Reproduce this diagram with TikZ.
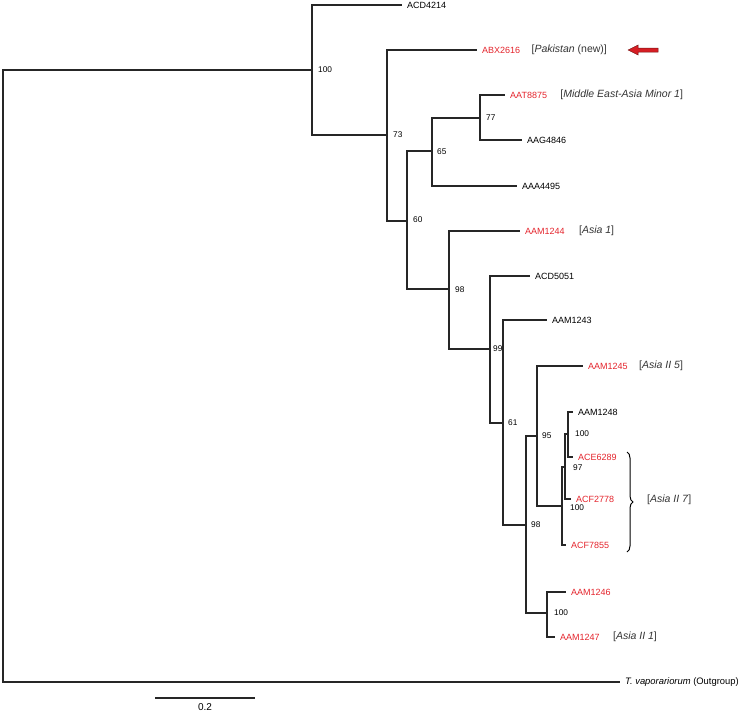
\documentclass[tikz,border=0pt]{standalone}
\usepackage{fontspec}
\setmainfont{Liberation Sans}
\usepackage{tikz}
\usetikzlibrary{positioning,calc,decorations.pathreplacing}
\definecolor{taxonred}{RGB}{228,36,44}
\definecolor{arrowred}{RGB}{214,30,36}
\definecolor{arrowedge}{RGB}{120,20,20}

\begin{document}
\begin{tikzpicture}[x=1pt, y=-1pt,
  branch/.style={draw=black!85, line width=1.1pt},
  taxon/.style={inner sep=0pt, font=\fontsize{9}{10}\selectfont},
  newtaxon/.style={taxon, text=taxonred},
  group/.style={inner sep=0pt, text=black!80, font=\fontsize{10.5}{12}\selectfont},
  support/.style={inner sep=0pt, anchor=west, font=\fontsize{8.3}{9}\selectfont}]
  \useasboundingbox (0,0) rectangle (739,715);

  % internal nodes
  \coordinate (root) at (3,376);
  \coordinate (n100) at (312,70);
  \coordinate (n73) at (387,135);
  \coordinate (n60) at (407,221);
  \coordinate (n65) at (432,151);
  \coordinate (n77) at (480,118);
  \coordinate (n98a) at (449,289);
  \coordinate (n99) at (490,349);
  \coordinate (n61) at (503,423);
  \coordinate (n98b) at (526,525);
  \coordinate (n95) at (537,436);
  \coordinate (nA100) at (562,506);
  \coordinate (n97) at (565,467);
  \coordinate (n100d) at (568,434);
  \coordinate (n100e) at (547,613);
  % leaf tips
  \coordinate (acd4214) at (402,5);
  \coordinate (abx2616) at (477,50);
  \coordinate (aat8875) at (505,95);
  \coordinate (aag4846) at (522,140);
  \coordinate (aaa4495) at (517,186);
  \coordinate (aam1244) at (520,231);
  \coordinate (acd5051) at (530,276);
  \coordinate (aam1243) at (547,320);
  \coordinate (aam1245) at (583,366);
  \coordinate (aam1248) at (573,412);
  \coordinate (ace6289) at (573,457);
  \coordinate (acf2778) at (571,499);
  \coordinate (acf7855) at (566,545);
  \coordinate (aam1246) at (566,592);
  \coordinate (aam1247) at (555,637);
  \coordinate (outg) at (620,682);

  % branches
  \foreach \p/\c in {root/n100, root/outg, n100/acd4214, n100/n73,
      n73/abx2616, n73/n60, n60/n65, n60/n98a, n65/n77, n65/aaa4495,
      n77/aat8875, n77/aag4846, n98a/aam1244, n98a/n99, n99/acd5051,
      n99/n61, n61/aam1243, n61/n98b, n98b/n95, n98b/n100e,
      n95/aam1245, n95/nA100, nA100/n97, nA100/acf7855, n97/n100d,
      n97/acf2778, n100d/aam1248, n100d/ace6289, n100e/aam1246,
      n100e/aam1247}
    \draw[branch] (\p) |- (\c);

  % taxa
  \foreach \t/\lab/\s in {acd4214/ACD4214/taxon, abx2616/ABX2616/newtaxon,
      aat8875/AAT8875/newtaxon, aag4846/AAG4846/taxon,
      aaa4495/AAA4495/taxon, aam1244/AAM1244/newtaxon,
      acd5051/ACD5051/taxon, aam1243/AAM1243/taxon,
      aam1245/AAM1245/newtaxon, aam1248/AAM1248/taxon,
      ace6289/ACE6289/newtaxon, acf2778/ACF2778/newtaxon,
      acf7855/ACF7855/newtaxon, aam1246/AAM1246/newtaxon,
      aam1247/AAM1247/newtaxon}
    \node[\s, right=5pt of \t] (l-\t) {\lab};
  \node[taxon, right=5pt of outg, font=\fontsize{9.4}{11}\selectfont] (l-outg)
    {\textit{T. vaporariorum} (Outgroup)};

  % bootstrap values
  \foreach \n/\v/\dx/\dy in {n100/100/6/0, n73/73/6/0, n65/65/5/1,
      n77/77/6/0, n60/60/6/-1, n98a/98/6/1, n99/99/3/0, n61/61/5/0,
      n98b/98/5/0, n95/95/5/0, n100d/100/7/0, n97/97/8/1,
      nA100/100/8/2, n100e/100/7/0}
    \node[support] (s-\n) at ([shift={(\dx,\dy)}]\n) {\v};

  % groups
  \node[group, right=11pt of l-abx2616] (g-pak) {[\textit{Pakistan} (new)]};
  \node[group, right=13pt of l-aat8875] (g-meam) {[\textit{Middle East-Asia Minor 1}]};
  \node[group, right=14pt of l-aam1244] (g-asia1) {[\textit{Asia 1}]};
  \node[group, right=11pt of l-aam1245] (g-asia25) {[\textit{Asia II 5}]};
  \node[group, right=13pt of l-aam1247] (g-asia21) {[\textit{Asia II 1}]};
  \coordinate (brace-t) at (627,452);
  \coordinate (brace-b) at (627,552);
  \draw[line width=1pt, decorate, decoration={brace, amplitude=6pt}]
    (brace-t) -- (brace-b);
  \node[group, anchor=west] (g-asia27) at (647,500) {[\textit{Asia II 7}]};

  % arrow
  \draw[fill=arrowred, draw=arrowedge, line width=0.5pt]
    ([xshift=21pt]g-pak.east) -- ++(10,-5) -- ++(0,3) -- ++(20,0)
    -- ++(0,4) -- ++(-20,0) -- ++(0,3) -- cycle;

  % scale
  \coordinate (bar-l) at (155,698);
  \coordinate (bar-r) at (255,698);
  \draw[branch] (bar-l) -- (bar-r);
  \node[taxon, below=5pt of $(bar-l)!0.5!(bar-r)$, font=\fontsize{10}{12}\selectfont] (bar-lab) {0.2};
\end{tikzpicture}
\end{document}
